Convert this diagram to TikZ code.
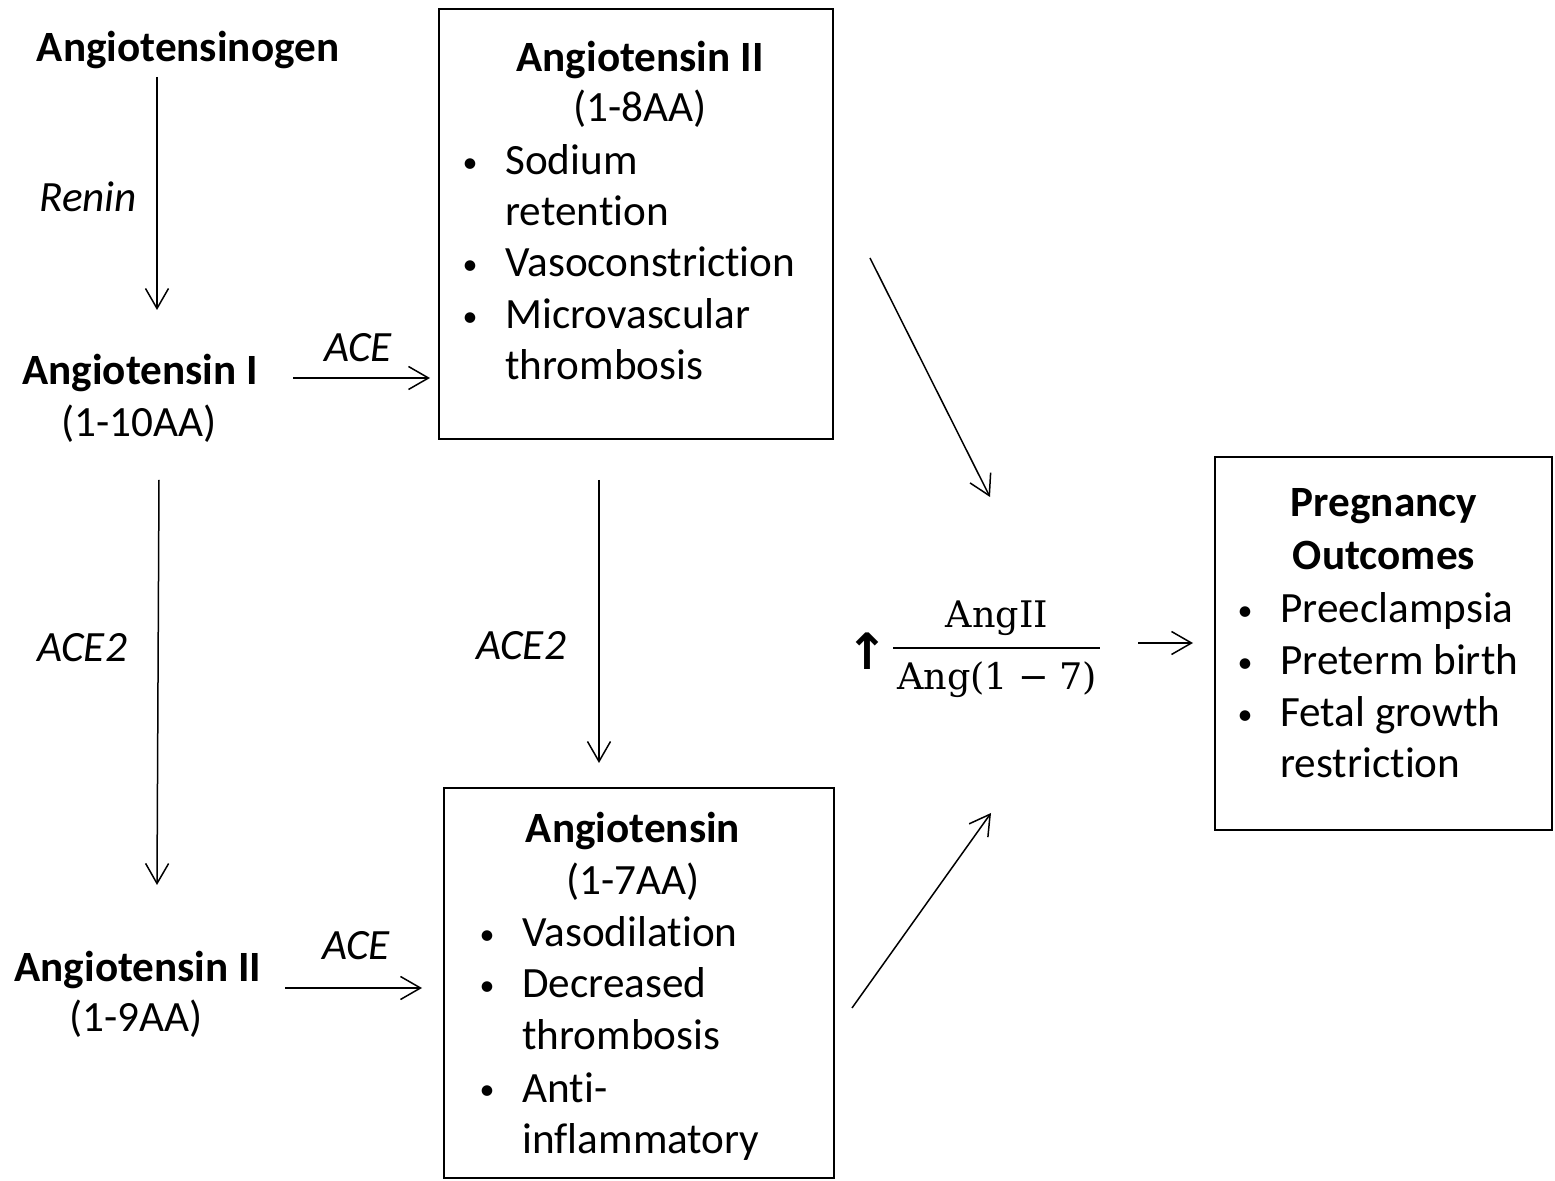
\documentclass[tikz,border=0pt]{standalone}
\usepackage{fontspec}
\setmainfont{Carlito}[Ligatures=NoCommon]
\newfontfamily\fracfont{DejaVu Serif}
\newfontfamily\symfont{DejaVu Sans}
\usetikzlibrary{arrows.meta}
\newcommand{\mybul}{\raisebox{1.2pt}{\fontsize{15}{18}\selectfont •}}
\tikzset{
  txt/.style={inner sep=0pt, font=\fontsize{21.6}{25}\selectfont, anchor=base west},
  ctxt/.style={inner sep=0pt, font=\fontsize{21.6}{25}\selectfont, anchor=base},
  hd/.style={inner sep=0pt, font=\fontsize{21.6}{25}\selectfont\bfseries, anchor=base},
  lbl/.style={inner sep=0pt, font=\fontsize{21.6}{25}\selectfont\itshape, anchor=base west},
  bul/.style={inner sep=0pt, anchor=base},
  frame/.style={draw, line width=1pt, inner sep=0pt},
  frac/.style={inner sep=0pt, font=\fontsize{18.3}{22}\fracfont, anchor=base},
  conn/.style={line width=0.75pt, -{Straight Barb[length=10pt,width=11.5pt,line width=0.75pt]}}
}
\begin{document}
\begin{tikzpicture}[x=0.5pt,y=-0.5pt]
\useasboundingbox[fill=white] (0,0) rectangle (1555,1181);

% left column
\node[hd] (agen) at (188,62) {Angiotensinogen};
\node[lbl] (renin) at (39,212) {Renin};
\node[hd] (ang1) at (140,385) {Angiotensin I};
\node[ctxt] (ang1aa) at (139,437) {(1-10AA)};
\node[lbl] (ace2a) at (37,662) {ACE2};
\node[hd] (ang9) at (138,982) {Angiotensin II};
\node[ctxt] (ang9aa) at (136,1032) {(1-9AA)};

% labels
\node[lbl] (acea) at (324,362) {ACE};
\node[lbl] (aceb) at (322,960) {ACE};
\node[lbl] (ace2b) at (476,660) {ACE2};

% box 1
\node[frame, minimum width=197pt, minimum height=215pt] (box1) at (636,224) {};
\node[hd] (b1t) at (640,72) {Angiotensin II};
\node[ctxt] (b1aa) at (640,122) {(1-8AA)};
\node[bul] (b1p1) at (470,175) {\mybul};
\node[txt] (b1l1) at (505,175) {Sodium};
\node[txt] (b1l2) at (505,226) {retention};
\node[bul] (b1p2) at (470,277) {\mybul};
\node[txt] (b1l3) at (505,277) {Vasoconstriction};
\node[bul] (b1p3) at (470,329) {\mybul};
\node[txt] (b1l4) at (505,329) {Microvascular};
\node[txt] (b1l5) at (505,380) {thrombosis};

% box 2
\node[frame, minimum width=195pt, minimum height=195pt] (box2) at (639,983) {};
\node[hd] (b2t) at (633,843) {Angiotensin};
\node[ctxt] (b2aa) at (633,895) {(1-7AA)};
\node[bul] (b2p1) at (487,947) {\mybul};
\node[txt] (b2l1) at (522,947) {Vasodilation};
\node[bul] (b2p2) at (487,998) {\mybul};
\node[txt] (b2l2) at (522,998) {Decreased};
\node[txt] (b2l3) at (522,1050) {thrombosis};
\node[bul] (b2p3) at (487,1102) {\mybul};
\node[txt] (b2l4) at (522,1102) {Anti-};
\node[txt] (b2l5) at (522,1153) {inflammatory};

% box 3
\node[frame, minimum width=168.5pt, minimum height=186.5pt] (box3) at (1383.5,643.5) {};
\node[hd] (b3t1) at (1384,517) {Pregnancy};
\node[hd] (b3t2) at (1384,570) {Outcomes};
\node[bul] (b3p1) at (1245,623) {\mybul};
\node[txt] (b3l1) at (1280,623) {Preeclampsia};
\node[bul] (b3p2) at (1245,675) {\mybul};
\node[txt] (b3l2) at (1280,675) {Preterm birth};
\node[bul] (b3p3) at (1245,727) {\mybul};
\node[txt] (b3l3) at (1280,727) {Fetal growth};
\node[txt] (b3l4) at (1280,778) {restriction};

% ratio
\node[inner sep=0pt, font=\fontsize{25}{28}\symfont\bfseries] (up) at (867,651) {↑};
\node[frac] (num) at (997,628) {AngII};
\node[frac] (den) at (997,690) {Ang(1\hspace{0.28em}−\hspace{0.28em}7)};
\draw[line width=1pt] (893,648) -- (1100,648);

% connector ends
\coordinate (a1s) at (157,77);  \coordinate (a1e) at (157,310);
\coordinate (a2s) at (293,378); \coordinate (a2e) at (430,378);
\coordinate (a3s) at (159,480); \coordinate (a3e) at (157,885);
\coordinate (a4s) at (285,988); \coordinate (a4e) at (422,988);
\coordinate (a5s) at (599,480); \coordinate (a5e) at (599,763);
\coordinate (a6s) at (870,258); \coordinate (a6e) at (990,497);
\coordinate (a7s) at (852,1008); \coordinate (a7e) at (991,813);
\coordinate (a8s) at (1138,643); \coordinate (a8e) at (1193,643);

\draw[conn] (a1s) -- (a1e);
\draw[conn] (a2s) -- (a2e);
\draw[conn] (a3s) -- (a3e);
\draw[conn] (a4s) -- (a4e);
\draw[conn] (a5s) -- (a5e);
\draw[conn] (a6s) -- (a6e);
\draw[conn] (a7s) -- (a7e);
\draw[conn] (a8s) -- (a8e);
\end{tikzpicture}
\end{document}
